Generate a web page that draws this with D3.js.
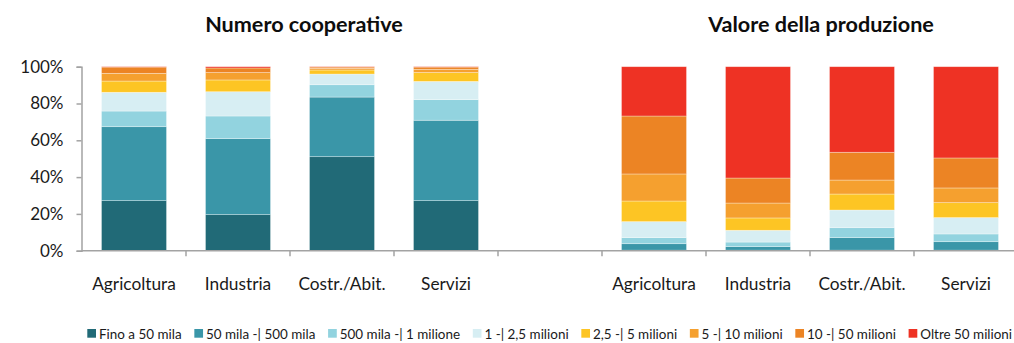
<!DOCTYPE html>
<html>
<head>
<meta charset="utf-8">
<script src="https://cdn.jsdelivr.net/npm/d3@7"></script>
<style>
  html, body { margin: 0; padding: 0; background: #fff; }
  svg { display: block; font-family: Lato, "Open Sans", sans-serif; }
</style>
</head>
<body>
<svg id="chart" width="1014" height="343"></svg>
<script>
// Categories and panel titles
const categories = ["Agricoltura", "Industria", "Costr./Abit.", "Servizi"];
const panelTitles = ["Numero cooperative", "Valore della produzione"];

// Size classes (legend order, bottom to top in each bar)
const seriesNames = [
  "Fino a 50 mila", "50 mila -| 500 mila", "500 mila -| 1 milione", "1 -| 2,5 milioni",
  "2,5 -| 5 milioni", "5 -| 10 milioni", "10 -| 50 milioni", "Oltre 50 milioni"
];
const seriesColors = [
  "#216a77", "#3a96a8", "#92d3df", "#d7eef3",
  "#fdc524", "#f5a02f", "#ec8424", "#ee3224"
];

// Shares (%) per class: first four values = number of cooperatives,
// last four = value of production, in category order
const fino50    = [27.2, 19.6, 51.1, 27.2,  0.3,  0.3,  0.3,  0.3];
const da50a500  = [40.2, 41.3, 32.4, 43.7,  3.5,  1.9,  6.8,  4.6];
const da500a1m  = [ 8.5, 12.3,  6.7, 11.2,  3.3,  2.5,  5.4,  4.2];
const da1a2_5m  = [10.2, 13.2,  5.8,  9.9,  8.7,  6.4,  9.6,  8.9];
const da2_5a5m  = [ 6.1,  6.4,  2.2,  4.8, 11.2,  6.7,  8.7,  8.1];
const da5a10m   = [ 4.2,  4.0,  0.9,  1.8, 14.7,  8.1,  7.6,  8.0];
const da10a50m  = [ 3.4,  2.5,  0.7,  1.2, 31.5, 13.6, 15.1, 16.3];
const oltre50m  = [ 0.2,  0.7,  0.2,  0.2, 26.8, 60.5, 46.5, 49.6];

const yTicks = [0, 20, 40, 60, 80, 100];

const seriesValues = [fino50, da50a500, da500a1m, da1a2_5m, da2_5a5m, da5a10m, da10a50m, oltre50m];

// One row per bar: panel 0 occupies slots 0-3, slot 4 is a spacer, panel 1 slots 5-8
const rows = [];
panelTitles.forEach((t, p) => {
  categories.forEach((c, i) => {
    const row = { slot: p * 5 + i, label: c };
    seriesNames.forEach((s, k) => { row[s] = seriesValues[k][p * 4 + i]; });
    rows.push(row);
  });
});

const svg = d3.select("#chart");
const W = 1014;

const x = d3.scaleBand()
  .domain(d3.range(9))
  .range([82, 1018])
  .paddingInner(0.375)
  .paddingOuter(0.1875);

const y = d3.scaleLinear().domain([0, 100]).range([250.7, 66.7]);

const color = d3.scaleOrdinal().domain(seriesNames).range(seriesColors);

const stacked = d3.stack().keys(seriesNames)(rows);

// Bars
svg.append("g")
  .selectAll("g")
  .data(stacked)
  .join("g")
  .attr("fill", d => color(d.key))
  .selectAll("rect")
  .data(d => d)
  .join("rect")
  .attr("x", d => x(d.data.slot))
  .attr("width", x.bandwidth())
  .attr("y", d => y(d[1]))
  .attr("height", d => Math.max(0, y(d[0]) - y(d[1])))
  .attr("stroke", "#fff")
  .attr("stroke-opacity", 0.45)
  .attr("stroke-width", 0.7);

const axisColor = "#a3a3a3";

// Y axis (left panel only)
const yAxis = svg.append("g")
  .attr("transform", "translate(81.5,0)")
  .call(d3.axisLeft(y).tickValues(yTicks).tickSize(5).tickPadding(13).tickFormat(d => d + "%"));
yAxis.select(".domain").attr("stroke", axisColor).attr("stroke-width", 1.5);
yAxis.selectAll(".tick line").attr("stroke", axisColor).attr("stroke-width", 1.5);
yAxis.selectAll(".tick text")
  .attr("fill", "#1a1a1a")
  .style("font-family", "Lato, sans-serif")
  .style("font-size", "17px");

// X axis: baseline, boundary ticks between slots, category labels centred in slots
const xg = svg.append("g").attr("transform", "translate(0," + y(0) + ")");
xg.append("line")
  .attr("x1", 81.5).attr("x2", W)
  .attr("stroke", axisColor).attr("stroke-width", 1.5);
xg.selectAll("line.bound")
  .data(d3.range(1, 9))
  .join("line")
  .attr("class", "bound")
  .attr("x1", d => x(d) - x.step() * x.paddingInner() / 2)
  .attr("x2", d => x(d) - x.step() * x.paddingInner() / 2)
  .attr("y1", 0).attr("y2", 5.5)
  .attr("stroke", axisColor).attr("stroke-width", 1.5);

svg.append("g")
  .selectAll("text")
  .data(rows)
  .join("text")
  .attr("x", d => x(d.slot) + x.bandwidth() / 2)
  .attr("y", 290)
  .attr("text-anchor", "middle")
  .attr("fill", "#1a1a1a")
  .style("font-size", "17.3px")
  .text(d => d.label);

// Panel titles
const titleX = [304, 821];
svg.append("g")
  .selectAll("text")
  .data(panelTitles)
  .join("text")
  .attr("x", (d, i) => titleX[i])
  .attr("y", 32)
  .attr("text-anchor", "middle")
  .attr("fill", "#0d0d0d")
  .style("font-size", "21.6px")
  .style("font-weight", "bold")
  .text(d => d);

// Legend: one row from x0 to x1; the font size is tuned so the row fills that span
const legendX0 = 87.3, legendX1 = 1013.3;
const sw = 8.7, textGap = 3, itemGap = 12.7;
const legend = svg.append("g");
const items = legend.selectAll("g")
  .data(seriesNames)
  .join("g");
items.append("rect")
  .attr("y", 329).attr("width", sw).attr("height", sw)
  .attr("fill", (d, k) => seriesColors[k]);
const labels = items.append("text")
  .attr("x", sw + textGap).attr("y", 338.8)
  .attr("fill", "#1a1a1a")
  .style("font-size", "13px")
  .text(d => d);
const textTotal = d3.sum(labels.nodes(), n => n.getComputedTextLength());
const fixed = seriesNames.length * (sw + textGap) + (seriesNames.length - 1) * itemGap;
const fontSize = 13 * (legendX1 - legendX0 - fixed) / textTotal;
labels.style("font-size", fontSize + "px");
let cx = legendX0;
items.each(function () {
  const g = d3.select(this);
  g.attr("transform", "translate(" + cx + ",0)");
  cx += sw + textGap + g.select("text").node().getComputedTextLength() + itemGap;
});
</script>
</body>
</html>
